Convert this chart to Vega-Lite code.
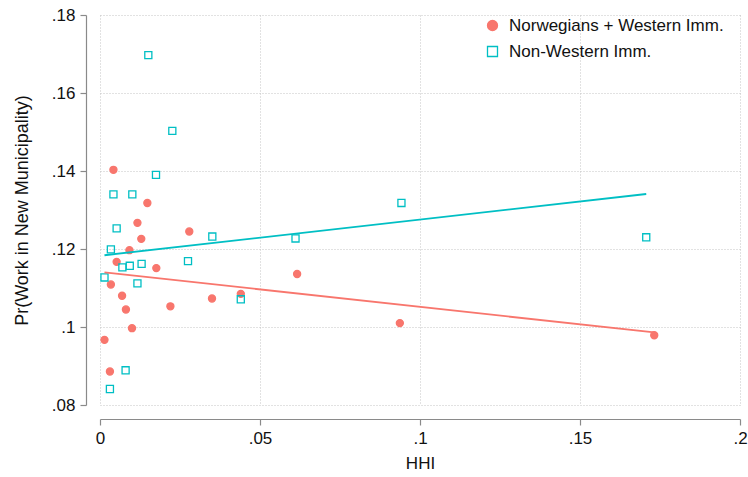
{
  "$schema": "https://vega.github.io/schema/vega-lite/v6.json",
  "width": 640,
  "height": 390,
  "autosize": {"type": "none"},
  "padding": {"left": 100, "top": 15, "right": 8, "bottom": 72},
  "background": "white",
  "config": {
    "font": "Liberation Sans",
    "view": {"stroke": null},
    "axis": {
      "domainColor": "#8a8a8a",
      "domainWidth": 1.2,
      "tickColor": "#8a8a8a",
      "tickWidth": 1.2,
      "tickSize": 6,
      "labelFont": "Liberation Sans",
      "labelFontSize": 17,
      "labelColor": "#111111",
      "labelPadding": 5,
      "titleFont": "Liberation Sans",
      "titleFontSize": 17,
      "titleFontWeight": "normal",
      "titleColor": "#111111",
      "gridColor": "#c4c4c4",
      "gridDash": [1, 2],
      "gridWidth": 1
    },
    "legend": {
      "labelFont": "Liberation Sans",
      "labelFontSize": 17,
      "labelColor": "#111111",
      "labelLimit": 400
    }
  },
  "datasets": {
    "points": [
      {"group": "Norwegians + Western Imm.", "hhi": 0.0042, "pr": 0.1403},
      {"group": "Norwegians + Western Imm.", "hhi": 0.0148, "pr": 0.1318},
      {"group": "Norwegians + Western Imm.", "hhi": 0.0117, "pr": 0.1267},
      {"group": "Norwegians + Western Imm.", "hhi": 0.0279, "pr": 0.1245},
      {"group": "Norwegians + Western Imm.", "hhi": 0.0129, "pr": 0.1226},
      {"group": "Norwegians + Western Imm.", "hhi": 0.0092, "pr": 0.1197},
      {"group": "Norwegians + Western Imm.", "hhi": 0.0052, "pr": 0.1167},
      {"group": "Norwegians + Western Imm.", "hhi": 0.0176, "pr": 0.1151},
      {"group": "Norwegians + Western Imm.", "hhi": 0.0616, "pr": 0.1136},
      {"group": "Norwegians + Western Imm.", "hhi": 0.0034, "pr": 0.1109},
      {"group": "Norwegians + Western Imm.", "hhi": 0.0069, "pr": 0.108},
      {"group": "Norwegians + Western Imm.", "hhi": 0.044, "pr": 0.1085},
      {"group": "Norwegians + Western Imm.", "hhi": 0.035, "pr": 0.1073},
      {"group": "Norwegians + Western Imm.", "hhi": 0.022, "pr": 0.1053},
      {"group": "Norwegians + Western Imm.", "hhi": 0.0081, "pr": 0.1045},
      {"group": "Norwegians + Western Imm.", "hhi": 0.0937, "pr": 0.101},
      {"group": "Norwegians + Western Imm.", "hhi": 0.01, "pr": 0.0997},
      {"group": "Norwegians + Western Imm.", "hhi": 0.0014, "pr": 0.0967},
      {"group": "Norwegians + Western Imm.", "hhi": 0.0031, "pr": 0.0886},
      {"group": "Norwegians + Western Imm.", "hhi": 0.1732, "pr": 0.0979},
      {"group": "Non-Western Imm.", "hhi": 0.0151, "pr": 0.1697},
      {"group": "Non-Western Imm.", "hhi": 0.0226, "pr": 0.1503},
      {"group": "Non-Western Imm.", "hhi": 0.0175, "pr": 0.139},
      {"group": "Non-Western Imm.", "hhi": 0.0042, "pr": 0.134},
      {"group": "Non-Western Imm.", "hhi": 0.0101, "pr": 0.134},
      {"group": "Non-Western Imm.", "hhi": 0.0942, "pr": 0.1318},
      {"group": "Non-Western Imm.", "hhi": 0.0052, "pr": 0.1253},
      {"group": "Non-Western Imm.", "hhi": 0.0351, "pr": 0.1232},
      {"group": "Non-Western Imm.", "hhi": 0.0611, "pr": 0.1227},
      {"group": "Non-Western Imm.", "hhi": 0.1707, "pr": 0.123},
      {"group": "Non-Western Imm.", "hhi": 0.0034, "pr": 0.1199},
      {"group": "Non-Western Imm.", "hhi": 0.0275, "pr": 0.1169},
      {"group": "Non-Western Imm.", "hhi": 0.013, "pr": 0.1162},
      {"group": "Non-Western Imm.", "hhi": 0.0093, "pr": 0.1157},
      {"group": "Non-Western Imm.", "hhi": 0.007, "pr": 0.1153},
      {"group": "Non-Western Imm.", "hhi": 0.0014, "pr": 0.1127},
      {"group": "Non-Western Imm.", "hhi": 0.0117, "pr": 0.1112},
      {"group": "Non-Western Imm.", "hhi": 0.044, "pr": 0.1071},
      {"group": "Non-Western Imm.", "hhi": 0.008, "pr": 0.0889},
      {"group": "Non-Western Imm.", "hhi": 0.0031, "pr": 0.0841}
    ],
    "fits": [
      {"group": "Norwegians + Western Imm.", "hhi": 0.0014, "pr": 0.114},
      {"group": "Norwegians + Western Imm.", "hhi": 0.1732, "pr": 0.0986},
      {"group": "Non-Western Imm.", "hhi": 0.0014, "pr": 0.1184},
      {"group": "Non-Western Imm.", "hhi": 0.1707, "pr": 0.1341}
    ]
  },
  "layer": [
    {
      "data": {"name": "points"},
      "mark": {"type": "point", "size": 50, "strokeWidth": 1.3, "opacity": 1},
      "encoding": {
        "x": {
          "field": "hhi",
          "type": "quantitative",
          "scale": {"domain": [0, 0.2], "nice": false, "zero": false},
          "axis": {
            "title": "HHI",
            "values": [0, 0.05, 0.1, 0.15, 0.2],
            "labelExpr": "datum.value == 0 ? '0' : substring(format(datum.value, '~g'), 1)",
            "offset": 14,
            "titlePadding": 9,
            "labelFlush": false
          }
        },
        "y": {
          "field": "pr",
          "type": "quantitative",
          "scale": {"domain": [0.08, 0.18], "nice": false, "zero": false},
          "axis": {
            "title": "Pr(Work in New Municipality)",
            "titleFontSize": 18,
            "values": [0.08, 0.1, 0.12, 0.14, 0.16, 0.18],
            "labelExpr": "substring(format(datum.value, '~g'), 1)",
            "offset": 14,
            "titlePadding": 20,
            "labelFlush": false
          }
        },
        "shape": {
          "field": "group",
          "type": "nominal",
          "scale": {"domain": ["Norwegians + Western Imm.", "Non-Western Imm."], "range": ["circle", "square"]},
          "legend": {"title": null, "orient": "none", "legendX": 384, "legendY": 2, "padding": 0, "labelOffset": 8, "rowPadding": 8, "symbolStrokeWidth": 1.3, "labelLimit": 400}
        },
        "stroke": {
          "field": "group",
          "type": "nominal",
          "scale": {"domain": ["Norwegians + Western Imm.", "Non-Western Imm."], "range": ["#F8766D", "#00BFC4"]},
          "legend": {"title": null, "orient": "none", "legendX": 384, "legendY": 2, "padding": 0, "labelOffset": 8, "rowPadding": 8, "symbolStrokeWidth": 1.3, "labelLimit": 400}
        },
        "fill": {
          "field": "group",
          "type": "nominal",
          "scale": {"domain": ["Norwegians + Western Imm.", "Non-Western Imm."], "range": ["#F8766D", "transparent"]},
          "legend": {"title": null, "orient": "none", "legendX": 384, "legendY": 2, "padding": 0, "labelOffset": 8, "rowPadding": 8, "symbolStrokeWidth": 1.3, "labelLimit": 400}
        }
      }
    },
    {
      "data": {"name": "fits"},
      "mark": {"type": "line", "strokeWidth": 1.8},
      "encoding": {
        "x": {"field": "hhi", "type": "quantitative"},
        "y": {"field": "pr", "type": "quantitative"},
        "detail": {"field": "group", "type": "nominal"},
        "stroke": {
          "condition": {"test": "datum.group === 'Norwegians + Western Imm.'", "value": "#F8766D"},
          "value": "#00BFC4"
        }
      }
    }
  ]
}
